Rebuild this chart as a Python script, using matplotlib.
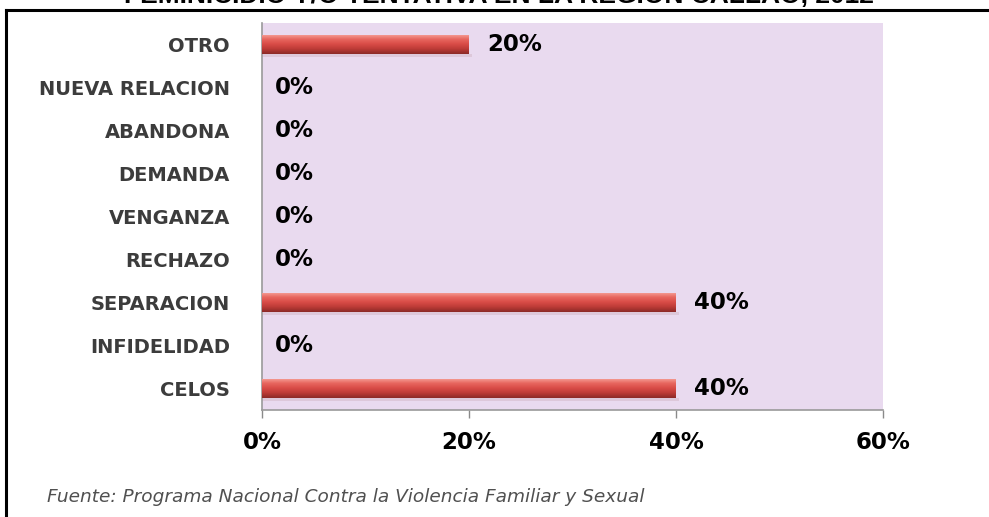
import matplotlib
matplotlib.use("Agg")
import matplotlib.pyplot as plt
import numpy as np
from matplotlib.colors import LinearSegmentedColormap
from matplotlib.patches import Rectangle

categories = ["CELOS", "INFIDELIDAD", "SEPARACION", "RECHAZO", "VENGANZA",
              "DEMANDA", "ABANDONA", "NUEVA RELACION", "OTRO"]
values = [40, 0, 40, 0, 0, 0, 0, 0, 20]
x_ticks = [0, 20, 40, 60]
x_tick_labels = ["0%", "20%", "40%", "60%"]
title = "FEMINICIDIO Y/O TENTATIVA EN LA REGION CALLAO, 2012"
source = "Fuente: Programa Nacional Contra la Violencia Familiar y Sexual"

fig = plt.figure(figsize=(9.89, 5.17), dpi=100)
fig.patch.set_facecolor("white")

# outer frame lines (top and left)
fig.add_artist(plt.Line2D([6 / 989, 1.0], [1 - 10 / 517, 1 - 10 / 517],
                          transform=fig.transFigure, color="black", lw=2.2))
fig.add_artist(plt.Line2D([6 / 989, 6 / 989], [0.0, 1 - 10 / 517],
                          transform=fig.transFigure, color="black", lw=2.2))

# title (cut off at the top edge, as in the reference)
fig.text(499 / 989, 1 - (-4) / 517, title, ha="center", va="center",
         fontsize=19, fontweight="bold", family="Liberation Sans", color="black")

ax = fig.add_axes([262 / 989, 1 - 410 / 517, 621 / 989, (410 - 23) / 517])
ax.set_facecolor("#E9DAEF")

y = np.arange(len(categories))
bar_h = 0.45
bars = ax.barh(y, values, height=bar_h, color="#D9534F", edgecolor="none", zorder=2)

cmap = LinearSegmentedColormap.from_list(
    "barg", ["#F7A39B", "#E8675F", "#D94C47", "#BC3B37", "#8C2A27"])
grad = np.linspace(0, 1, 64).reshape(-1, 1)
for b in bars:
    if b.get_width() <= 0:
        continue
    x0, y0 = b.get_x(), b.get_y()
    w, h = b.get_width(), b.get_height()
    im = ax.imshow(grad, cmap=cmap, aspect="auto",
                   extent=[x0, x0 + w, y0, y0 + h], zorder=3, origin="upper")
    im.set_clip_path(b)
    # soft shadow below bar
    ax.add_patch(Rectangle((x0, y0 - 0.06), w + 0.3, 0.06, color="#C9A9B5",
                           alpha=0.35, lw=0, zorder=1))

for yi, v in zip(y, values):
    off = 13 if v == 0 else 18
    ax.annotate(f"{v}%", xy=(v, yi), xytext=(off * 0.72, 0), textcoords="offset points",
                ha="left", va="center", fontsize=16.5, fontweight="bold",
                family="DejaVu Sans", color="black")

ax.set_xlim(0, 60)
ax.set_ylim(-0.5, len(categories) - 0.5)
ax.set_xticks(x_ticks)
ax.set_xticklabels(x_tick_labels, fontsize=16.5, fontweight="bold", family="DejaVu Sans")
ax.set_yticks(y)
ax.set_yticklabels(categories, fontsize=14, fontweight="bold",
                   family="DejaVu Sans", color="#3c3c3c")
ax.tick_params(axis="y", length=0, pad=23)
ax.tick_params(axis="x", length=6, width=1, color="#8a8a8a", pad=9)
for s in ["top", "right"]:
    ax.spines[s].set_visible(False)
for s in ["left", "bottom"]:
    ax.spines[s].set_color("#9a9a9a")
    ax.spines[s].set_linewidth(1.2)

fig.text(47 / 989, 1 - 497 / 517, source, ha="left", va="center",
         fontsize=13.3, style="italic", family="DejaVu Sans", color="#505050")

fig.savefig("out.png", dpi=100)
